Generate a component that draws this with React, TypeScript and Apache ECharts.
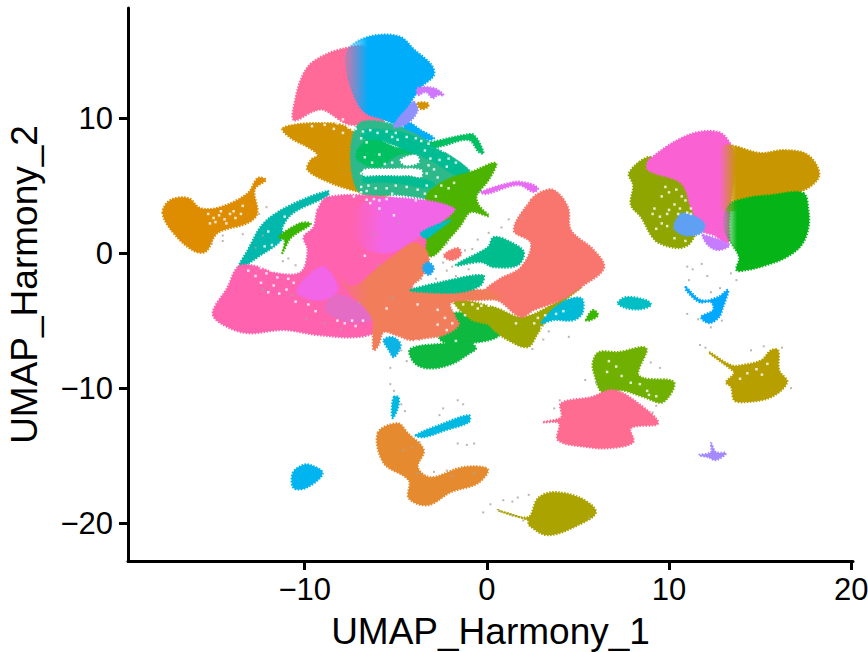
import React, { useEffect, useRef } from "react";
import * as echarts from "echarts";

type P = [number, number];

const xTicks = [-10, 0, 10, 20];
const yTicks = [-20, -10, 0, 10];

const goldLeft: P[] = [[-17.8,2.96],[-17.37,3.93],[-16.38,4.07],[-15.72,3.33],[-14.62,3.41],[-13.13,4.44],[-12.58,5.56],[-12.14,5.41],[-12.75,4.7],[-12.6,2.96],[-13.13,2.22],[-14.78,1.48],[-15.44,0.1],[-16.16,0.22],[-17.2,1.48]];
const tealArc: P[] = [[-13.63,-1.04],[-13.13,0.22],[-12.25,2.22],[-10.77,3.56],[-8.74,4.6],[-8.74,4.25],[-10.6,3.0],[-11.2,2.0],[-11.3,0.96],[-12.58,-0.3],[-13.24,-0.89]];
const greenTwig: P[] = [[-11.43,1.19],[-10.23,2.22],[-9.67,2.15],[-10.77,1.11],[-11.22,0],[-11.1,0.96]];
const pinkTop: P[] = [[-10.6,9.85],[-10.5,11.48],[-10.1,13.19],[-9.51,14.2],[-8.02,15.1],[-6.54,15.1],[-5.55,10],[-7.47,9.5],[-8.96,10.6],[-9.51,10.5]];
const blueTop: P[] = [[-7.75,14.08],[-7.64,15.04],[-7.09,15.7],[-5.99,16.15],[-4.73,16.0],[-4.01,15.1],[-3.08,14.0],[-2.9,13.19],[-3.6,12.3],[-4.2,11.11],[-4.73,9.6],[-5.66,9.9],[-6.76,10.5],[-7.47,12.3]];
const blueTail: P[] = [[-4.34,9.7],[-3.63,9.11],[-2.91,8.52],[-3.19,8.37],[-3.9,8.89],[-4.56,9.33]];
const periTop: P[] = [[-4.01,11.18],[-3.79,10.6],[-4.34,9.63],[-5.11,9.33],[-4.84,10],[-4.45,10.6]];
const lavTop: P[] = [[-3.79,12.22],[-2.91,12.22],[-2.36,11.7],[-2.69,11.7],[-2.97,11.48],[-3.35,11.93],[-3.79,11.7]];
const goldSmall: P[] = [[-3.79,11.11],[-3.24,11.11],[-3.24,10.82],[-3.63,10.67]];
const goldTop: P[] = [[-11.21,9.26],[-9.29,9.63],[-7.64,9.3],[-6.9,7.63],[-7.2,5.6],[-5.99,5.0],[-4.89,4.67],[-5.82,4.2],[-7.47,4.7],[-8.57,5.19],[-9.84,6.15],[-9.67,6.89],[-9.29,7.26],[-9.84,7.85],[-10.77,8.52]];
const tealField: P[] = [[-7.09,9.48],[-4.45,9.26],[-2.53,7.63],[-0.88,6],[-0.33,4.67],[-1.98,3.93],[-4.73,4.3],[-7.09,4.67]];
const greenTop: P[] = [[-7.09,7.63],[-6.37,8.52],[-5.55,8.15],[-4.89,7.78],[-4.18,7.85],[-2.53,8.37],[-1.26,8.74],[-0.71,8.74],[-0.17,7.41],[-0.44,7.48],[-0.99,8.37],[-2.25,8],[-3.9,7.41],[-4.89,7.26],[-5.99,6.37],[-7.09,6.89]];
const tealBandA: P[] = [[-6.76,9.11],[-4.56,8.89],[-2.91,7.85],[-1.04,6.15],[-1.43,5.63],[-3.08,6.89],[-4.45,7.63],[-5.82,8.37],[-6.76,8.52]];
const tealBandB: P[] = [[-6.76,5.63],[-4.34,5.63],[-2.91,5.19],[-3.08,4.82],[-4.89,5.19],[-5.99,5.26],[-6.76,5.26]];
const holeA: P[] = [[-5.66,8.37],[-4.18,8.22],[-4.45,7.78],[-5.27,7.78]];
const holeB: P[] = [[-6.76,6.15],[-5.27,6.22],[-3.63,6.15],[-3.63,5.63],[-4.34,5.78],[-5.66,5.56],[-6.65,5.63]];
const holeC: P[] = [[-4.73,6.89],[-3.9,7.26],[-3.74,6.74],[-4.45,6.52]];
const holeD: P[] = [[-2.91,7.93],[-2.36,7.63],[-2.53,7.26],[-2.91,7.48]];
const holeE: P[] = [[-1.59,6],[-0.33,5.41],[-0.44,4.89],[-1.43,5.26]];
const limeMain: P[] = [[-3.08,4.67],[-1.98,5.56],[-0.88,6.0],[0.49,6.67],[0.1,5.41],[-0.55,4.3],[-0.44,3.55],[0.1,2.74],[-0.88,3.04],[-1.43,2.07],[-1.98,1.19],[-2.97,-0.22],[-3.52,0.22],[-3.6,2.0],[-3.4,3.5],[-3.35,4.07]];
const pinkMain: P[] = [[-9.29,3.19],[-8.74,4.15],[-5.66,4.15],[-4.01,3.41],[-3.35,0.96],[-4.18,-2.74],[-4.73,-4.45],[-5.82,-5.7],[-7.09,-6.22],[-9.29,-6.07],[-11.15,-5.7],[-13.13,-5.93],[-14.45,-5.33],[-15.05,-4.45],[-14.23,-2.52],[-13.68,-1.04],[-12.9,-0.9],[-11.5,-1.5],[-10.2,-1.4],[-9.84,0.22],[-10.05,1.19],[-9.51,1.93]];
const magentaUpper: P[] = [[-6.76,3.7],[-4.56,4.07],[-1.81,3.33],[-2.36,2.44],[-3.79,1.19],[-5.27,0.07],[-6.76,0.44],[-7.31,1.93]];
const magentaLower: P[] = [[-10.05,-2],[-8.96,-1.04],[-8.19,-2.74],[-9.12,-3.48],[-10.38,-2.96]];
const mauveBlend: P[] = [[-8.3,-3.11],[-6.92,-3.85],[-6.26,-4.82],[-7.47,-5.11],[-8.85,-4.22]];
const cyanInner: P[] = [[-3.63,1.48],[-2.36,2.3],[-1.98,2.44],[-2.69,1.7],[-3.35,1.11]];
const salmonRight: P[] = [[2.42,3.93],[2.97,4.52],[3.68,4.67],[4.45,3.41],[4.62,1.7],[5.88,0.22],[6.43,-1.11],[5.17,-2.52],[4.07,-3.48],[2.58,-4.22],[1.87,-4.74],[0.77,-3.63],[-0.16,-2.96],[0.6,-2],[1.87,-1.04],[2.42,0.74],[1.48,1.7]];
const coralMain: P[] = [[-8.19,-1.48],[-7.64,-2.37],[-7.09,-2.37],[-6.26,-1.41],[-5.27,-0.37],[-4.01,0.74],[-3.35,0.22],[-3.19,-0.67],[-3.63,-1.85],[-4.18,-2.52],[-3.08,-2.74],[-1.98,-2.89],[-0.16,-2.74],[0.77,-3.33],[-0.33,-3.48],[-1.98,-3.7],[-1.7,-4.82],[-1.54,-5.33],[-2.36,-6.07],[-3.35,-6.3],[-4.18,-6.44],[-5,-6.07],[-5.66,-5.85],[-5.94,-6.81],[-6.21,-7.19],[-6.26,-6.07],[-6.26,-4.96],[-6.81,-3.85],[-7.58,-2.89]];
const oliveMid: P[] = [[-1.81,-3.48],[0.38,-4.0],[1.87,-4.74],[3.35,-4],[5.17,-2.52],[3.68,-4.22],[2.8,-5.93],[2.25,-6.96],[1.15,-6.44],[0.38,-5.7],[0.1,-5.3],[-0.88,-4.9]];
const greenLower: P[] = [[-4.2,-7.1],[-2.36,-6.7],[-1.04,-6.55],[-0.6,-7.04],[-1.04,-7.5],[-1.98,-8.25],[-3.24,-8.54],[-4,-8.1]];
const greenUpper: P[] = [[-2.5,-4.7],[-0.33,-4.6],[0.7,-6.0],[-0.49,-6.6],[-2.5,-6.5]];
const tealTriangle: P[] = [[-1.7,-0.89],[0.05,0.44],[0.38,1.19],[1.32,0.81],[2.03,0.07],[1.7,-0.89],[0.38,-1.04],[-0.33,-0.67]];
const tealSliver: P[] = [[-4.18,-2.74],[-2.53,-2.15],[-0.22,-1.63],[-0.33,-2.37],[-1.43,-2.89],[-3.46,-2.89]];
const salmonSmall: P[] = [[-2.36,-0.15],[-1.59,0.37],[-1.43,-0.15],[-1.98,-0.52]];
const cyanMid: P[] = [[2.97,-5.19],[4.07,-3.7],[5.17,-3.33],[5.27,-4.37],[4.78,-4.96],[3.68,-4.96]];
const tealOval: P[] = [[7.2,-3.7],[7.64,-3.26],[8.74,-3.48],[9.01,-3.85],[8.46,-4.15],[7.64,-4.07]];
const greenChip: P[] = [[5.44,-4.96],[5.82,-4.22],[6.1,-4.59],[5.71,-4.96]];
const magentaLink: P[] = [[-0.33,4.52],[1.48,5.26],[2.25,5.19],[2.8,4.82],[2.58,4.52],[1.7,5.04],[-0.05,4.37]];
const blueStar: P[] = [[-3.24,-0.67],[-2.91,-1.11],[-3.19,-1.63],[-3.52,-1.11]];
const blueUnder: P[] = [[-5.66,-6.44],[-5.17,-6.22],[-4.73,-6.81],[-5.11,-7.7],[-5.38,-7.19]];
const oliveRight: P[] = [[8.85,7.11],[7.8,5.93],[8.03,5.04],[7.91,3.56],[8.46,2.67],[9.01,1.33],[9.45,0.74],[10.55,0.37],[11.21,0.82],[11.6,2.44],[11.21,4.89],[9.56,6.67]];
const goldRight: P[] = [[13.0,7.9],[15.05,7.41],[16.32,7.63],[17.63,7.26],[18.25,5.78],[17.42,4.67],[15.05,3.8],[13.0,3.19],[12.9,5.41]];
const greenRight: P[] = [[17.37,4.44],[17.65,3.19],[17.65,1.85],[17.27,0.59],[16.45,-0.3],[15.35,-0.89],[14.25,-1.26],[13.7,-1.26],[13.85,-0.3],[13.3,0.96],[12.98,2.07],[13.3,3.56],[14.25,4.07],[15.6,4.3]];
const magentaRight: P[] = [[8.9,6.89],[11.05,8.74],[12.7,8.97],[13.41,8],[13.68,6.67],[13.41,3.93],[13.3,2.22],[13.25,0.74],[12.47,1.33],[11.76,1.7],[11.21,3.41],[10.66,5.19],[8.85,6.15]];
const blueRight: P[] = [[10.27,1.93],[10.77,2.96],[11.92,2.22],[11.76,1.48],[10.82,1.33]];
const purpleRight: P[] = [[11.87,1.33],[13.3,0.59],[12.7,0.22],[12.14,0.59]];
const blueLower: P[] = [[10.93,-2.52],[11.76,-3.48],[12.68,-3.26],[13.24,-2.74],[12.97,-4],[12.75,-4.74],[12.2,-5.19],[11.76,-4.74],[12.42,-4.22],[12.3,-3.63],[11.65,-3.63],[10.93,-2.74]];
const limeBottom: P[] = [[6.16,-7.33],[7.2,-7.33],[8.74,-7.04],[8.3,-8.89],[8.63,-9.26],[10.27,-9.56],[9.67,-11.04],[8.63,-10.67],[7.36,-10.15],[6.37,-10.37],[5.88,-8.89],[5.82,-8.07]];
const pinkBottom: P[] = [[3.13,-12.52],[4.07,-12.15],[4.07,-11.11],[5.71,-10.67],[6.97,-10.15],[8.3,-11.11],[9.4,-12.6],[7.91,-12.96],[8.03,-14],[6.81,-14.44],[5.55,-14.37],[3.9,-13.85],[3.96,-12.6]];
const goldLowerRight: P[] = [[12.2,-7.33],[13.41,-8.3],[13.96,-8.3],[15.06,-7.93],[15.6,-7.19],[15.99,-7.19],[16.05,-8.67],[16.49,-9.56],[15.6,-10.67],[14.12,-11.04],[13.57,-10.89],[13.41,-9.93],[13.13,-9.56],[13.57,-8.89],[13.24,-8.44],[12.3,-7.5]];
const periSmall: P[] = [[12.3,-14.07],[12.58,-14.74],[13.13,-14.81],[12.58,-15.33],[12.14,-15.11],[11.65,-14.96],[12.3,-14.74]];
const oliveBottom: P[] = [[0.6,-19.04],[2.25,-19.56],[2.8,-18.15],[3.68,-17.7],[5.17,-18.15],[5.99,-19.19],[5,-20.15],[3.35,-20.89],[2.31,-20.15],[2.25,-19.78]];
const orangeBottom: P[] = [[-5.99,-13.33],[-4.89,-12.6],[-4.34,-13.33],[-3.46,-14.59],[-3.79,-15.85],[-3.08,-16.6],[-1.32,-15.85],[0.05,-16],[-0.49,-17.04],[-1.98,-17.7],[-3.24,-18.67],[-4.29,-18.15],[-4.29,-16.82],[-5.66,-15.56]];
const cyanBottom: P[] = [[-3.9,-13.48],[-2.36,-12.6],[-0.99,-12],[-0.99,-12.52],[-2.25,-13.11],[-3.46,-13.63]];
const cyanStreak: P[] = [[-5.11,-10.67],[-4.84,-10.67],[-4.89,-11.48],[-5.17,-12.22],[-5.22,-11.63]];
const blueLeft: P[] = [[-10.66,-16.3],[-10.11,-15.7],[-9.67,-15.7],[-9.01,-16.3],[-9.84,-17.33],[-10.6,-17.41]];

const whiteSpecks: P[] = [
[-9.2,10.1],[-8.8,10.3],[-8.5,9.8],[-8.2,9.6],[-7.9,9.9],[-8.9,9.5],[-9.6,9.4],[-7.6,9.3],[-7.2,9.2],[-6.8,9],[-6.4,9.1],[-6,8.9],[-5.5,9],[-5,8.9],[-8.4,9.2],[-7.9,8.9],[-6.9,8.5],[-6.6,8.2],
[-6.6,3.95],[-6.2,4],[-5.9,3.9],[-6.4,3.7],[-5.5,4],[-7.3,4.2],[-6.9,4.5],[-5.2,4.4],[-3.9,3.9],[-3.4,4.4],[-2.8,4.2],[-2.1,4.8],[-2.7,5.6],[-2.2,6.4],[-1.7,6.7],[-3.3,5.9],[-5.6,6.6],[-6.3,6.7],[-6.7,7.1],[-5.2,8.6],[-3.6,8.3],[-3.2,8.1],[-3.4,7.6],[-1.7,7.2],[-0.9,6.9],
[-6.5,5],[-6.1,4.8],[-5.5,4.8],[-5,5],[-4.4,4.9],[-3.8,4.7],[-3.3,5],[-2.5,5],[-1.8,5.2],[-2.9,6.2],[-2.6,6.9],[-2.1,7],[-3.2,6.5],[-3.1,7],[-4.9,6.2],[-4.2,6.2],[-5.2,6.7],[-5.9,7.3],[-4.4,8.6],[-4.9,8.4],[-3.9,8.5],[-6.9,5.9],[-6.9,4.9],[-6.6,4.6],
[-15.3,2.9],[-15,2.6],[-14.7,2.8],[-14.4,2.5],[-14.1,2.9],[-13.8,2.6],[-13.5,2.9],[-14.9,2.3],[-14.3,2.2],[-13.9,3.1],[-15.2,2.2],[-13.4,3.5],[-14.6,3.1],
[-12.4,-1.1],[-12.1,-1.5],[-11.8,-1.3],[-11.5,-1.8],[-11.2,-1.4],[-10.9,-1.9],[-12.7,-1.7],[-13.1,-1.3],[-12.4,-2.2],[-11.7,-2.4],[-11,-2.7],[-10.6,-2.2],[-11.4,-3],[-12,-2.9],[-10.5,-3.6],[-9.8,-3.8],[-9.4,-4.3],
[-11.6,3.1],[-11.1,2.7],[-12,1.6],[-11.8,0.6],[-12.2,0.5],[-11.9,-0.1],[-10.9,2.4],
[-8.2,-5],[-7.8,-5.2],[-7.2,-5.4],[-6.8,-5],[-7.4,-5],[-5.5,-4.1],[-3.8,-3.8],[-2.7,-4.2],[-2.3,-4.8],[-1.9,-5.2],[-1.2,-4.6],[-2.7,-5.3],[-2.2,-5.7],[-0.8,-3.8],[-0.3,-3.9],[0.1,-3.9],[-0.5,-4.1],
[-1.8,-4],[-1.3,-3.8],[-4.6,-6.5],[-3.9,-6.5],[-3,-6.5],[-1.7,-6.5],[-5.9,3.3],[-5.1,2.8],[-6.7,-0.2],
[2.8,-4.8],[3.2,-4.6],[2.6,-5.2],[1.6,-5.2],[3,-5.5],[4.2,-4.3],[3.8,-4.5],
[9.8,4.9],[10,4.5],[10.4,4.7],[9.6,4.2],[10.7,4.2],[10.9,3.9],[10.3,3.6],[9.9,2.9],[9.5,2.7],[9.1,2.9],[9.6,2.2],[9.9,2],[10,3.2],[10.6,3.3],[9.3,1.8],[9.2,3.3],[10.5,2.9],[11,3],[11.2,2.9],[10.3,1.1],[10.9,0.9],[11.2,3.3],
[12.7,-0.3],[13,-0.5],[13.3,-0.8],[13.1,0],[12.4,-0.1],[13.4,-0.2],
[7.1,-8.4],[6.7,-8],[7.9,-9.6],[8.4,-9.7],[7.4,-9.1],[8.8,-10.2],[9.3,-10.6],[8.9,-10.5],[6.6,-8.8],
[15.4,-8.2],[14.8,-8.6],[14.3,-8.9],[15.1,-9],[13.9,-9.3]
];
const greySpecks: P[] = [
[-12.3,1.3],[-12.7,0.4],[-14.5,1.3],[-13.4,1.4],[-15.1,0.7],[-14.5,0.9],[-12.5,2.9],[-12.1,3.4],
[-10.5,-0.9],[-11.2,-0.6],[-10.9,-0.4],[-12.3,-2.7],[-10.7,-3.1],[-9.9,-4.9],[-8.9,-5.2],[-8,-5.6],[-4.7,-7.2],[-4.4,-8],[-5.3,-8.5],
[-2.4,-0.7],[-1.9,-1],[-1.2,0.2],[-0.8,0.3],[-0.5,1],[0.1,1.5],[-2.2,0.7],[-2.8,-1.9],[-2.2,-1.3],[-1.7,-1.7],[-1,-1.2],[-3.6,-1.9],[0.8,1.9],[1.2,2.5],[1.9,2.6],[-4.8,2.2],[-6.2,1.4],
[-6,-0.9],[-7,-3.7],[-5.2,-3.3],[4.5,-6.2],[3.4,-5.8],[3.1,-6.4],[2.5,-7.1],
[11.8,-0.8],[11,-1],[11.3,-1.2],[12.1,-1.7],[13.4,-1.5],[13.7,-2],[11.1,-2],[12.8,-2.6],[12.3,-2.9],[11,-4.5],[11.6,-4.9],[12.9,-5],[12.3,-5.5],
[-5.1,-10.2],[-5.3,-9.7],[-4.7,-11.2],[-4.5,-11.7],[-2.6,-12],[-2.4,-11.5],[-1.6,-10.9],[-1.3,-11.2],[-1.6,-14.1],[-1.1,-14.2],[-0.7,-14.1],[-4.6,-14.6],[-4.1,-14.4],[-3.7,-14],[-3.8,-16.3],[-2.9,-16.2],[-2.2,-16.1],[-1.9,-16.5],[-0.7,-16.3],
[0.2,-18.6],[0.9,-18.3],[1.4,-18.4],[1.7,-18.1],[2.3,-17.9],[-0.2,-19.2],[0.7,-19.1],[1.4,-19.4],[2,-19.8],[5.6,-19.6],
[9.5,-8.5],[9,-8.1],[6,-9.6],[5.4,-9.4],[4,-10.9],[3.7,-11.5],[9.1,-11.8],[9.3,-11.3],[12,-7],[11.7,-6.8],[16.2,-7],[14.5,-7.2],[15.2,-6.9],[16.7,-10]
];

const fade = (r: number, g: number, b: number, a: number, stop: number) =>
  new echarts.graphic.LinearGradient(0, 0, 1, 0, [
    { offset: 0, color: `rgba(${r},${g},${b},${a})` },
    { offset: stop, color: `rgb(${r},${g},${b})` },
    { offset: 1, color: `rgb(${r},${g},${b})` },
  ]);

const layers: { pts: P[]; color: any }[] = [
  { pts: goldLeft, color: "#DE8C00" },
  { pts: tealArc, color: "#00B9AC" },
  { pts: greenTwig, color: "#39B600" },
  { pts: pinkTop, color: "#FF6A98" },
  { pts: blueLeft, color: "#00B4F0" },
  { pts: goldTop, color: "#D39200" },
  { pts: tealField, color: "#2DB98A" },
  { pts: holeA, color: "#FFFFFF" },
  { pts: holeB, color: "#FFFFFF" },
  { pts: holeC, color: "#FFFFFF" },
  { pts: holeD, color: "#FFFFFF" },
  { pts: holeE, color: "#FFFFFF" },
  { pts: greenTop, color: "#00C062" },
  { pts: tealBandA, color: "#00BC92" },
  { pts: tealBandB, color: "#00BC92" },
  { pts: limeMain, color: "#4CB400" },
  { pts: pinkMain, color: "#FF62AE" },
  { pts: magentaUpper, color: fade(242, 101, 231, 0.1, 0.3) },
  { pts: magentaLower, color: "#F265E7" },
  { pts: mauveBlend, color: "rgba(225,110,200,0.85)" },
  { pts: cyanInner, color: "#00BCC4" },
  { pts: blueTail, color: "#00ADFA" },
  { pts: blueTop, color: fade(0, 173, 250, 0.2, 0.25) },
  { pts: periTop, color: "#8F91FF" },
  { pts: lavTop, color: "#CF78FF" },
  { pts: goldSmall, color: "#D39200" },
  { pts: greenUpper, color: "#0DB93F" },
  { pts: greenLower, color: "#0DB93F" },
  { pts: oliveMid, color: "#9CA700" },
  { pts: cyanMid, color: "#00BAD6" },
  { pts: salmonRight, color: "#F8766D" },
  { pts: coralMain, color: fade(241, 125, 91, 0.1, 0.18) },
  { pts: tealTriangle, color: "#00BD8E" },
  { pts: tealSliver, color: "#00BD8E" },
  { pts: salmonSmall, color: "#F8766D" },
  { pts: tealOval, color: "#00BFC4" },
  { pts: greenChip, color: "#39B600" },
  { pts: magentaLink, color: "#E76BF3" },
  { pts: blueStar, color: "#1EA8F0" },
  { pts: blueUnder, color: "#0CB4E6" },
  { pts: oliveRight, color: "#8FA600" },
  { pts: magentaRight, color: "#FA62D4" },
  { pts: goldRight, color: fade(200, 151, 0, 0.05, 0.16) },
  { pts: greenRight, color: fade(5, 181, 24, 0.1, 0.16) },
  { pts: blueRight, color: "#5FA0F5" },
  { pts: purpleRight, color: "#C77CFF" },
  { pts: blueLower, color: "#00A9FF" },
  { pts: limeBottom, color: "#70B000" },
  { pts: pinkBottom, color: "#FF6C91" },
  { pts: goldLowerRight, color: "#B79F00" },
  { pts: periSmall, color: "#A58AFF" },
  { pts: oliveBottom, color: "#ABA300" },
  { pts: orangeBottom, color: "#E58A2E" },
  { pts: cyanBottom, color: "#00B9E3" },
  { pts: cyanStreak, color: "#00B9E3" },
];

const fmt = (v: number) => String(v).replace("-", "\u2212");

export default function App() {
  const ref = useRef<HTMLDivElement>(null);
  useEffect(() => {
    const chart = echarts.init(ref.current!, null, { renderer: "svg" });
    const polySeries = layers.map((l) => ({
      type: "custom",
      clip: false,
      silent: true,
      encode: { x: 0, y: 1 },
      data: l.pts,
      renderItem: (p: any, api: any) =>
        p.dataIndex === 0
          ? {
              type: "polygon",
              shape: { points: l.pts.map((q) => api.coord(q)), smooth: 0.35 },
              style: { fill: l.color, stroke: l.color, lineWidth: 2.2, lineDash: [1.5, 1.5] },
            }
          : null,
    }));
    const speck = (data: P[], color: string, size: number) => ({
      type: "scatter",
      silent: true,
      symbol: "rect",
      symbolSize: size,
      itemStyle: { color },
      data,
    });
    const axisCommon = {
      axisLine: { show: true, onZero: false, lineStyle: { color: "#000", width: 3 } },
      splitLine: { show: false },
      nameLocation: "middle" as const,
      nameTextStyle: { fontFamily: "Liberation Sans", fontSize: 37, color: "#000" },
    };
    const tick = { show: true, length: 9, lineStyle: { color: "#000", width: 3 } };
    chart.setOption({
      animation: false,
      backgroundColor: "#fff",
      grid: { left: 128, right: 15, top: 8, bottom: 91, outerBoundsMode: "none" },
      xAxis: {
        ...axisCommon,
        type: "value",
        min: -19.7,
        max: 20.1,
        name: "UMAP_Harmony_1",
        nameGap: 52,
        axisTick: { ...tick, customValues: xTicks },
        axisLabel: { customValues: xTicks, formatter: fmt, fontFamily: "Liberation Sans", fontSize: 31, color: "#000", margin: 13 },
      },
      yAxis: {
        ...axisCommon,
        type: "value",
        min: -22.8,
        max: 18.15,
        name: "UMAP_Harmony_2",
        nameGap: 85,
        axisTick: { ...tick, customValues: yTicks },
        axisLabel: { customValues: yTicks, formatter: fmt, fontFamily: "Liberation Sans", fontSize: 31, color: "#000", margin: 15 },
      },
      series: [...polySeries, speck(whiteSpecks, "#FFFFFF", 2.5), speck(greySpecks, "#A9A49C", 2)],
    });
    return () => chart.dispose();
  }, []);
  return <div ref={ref} style={{ position: "fixed", left: 0, top: 0, width: 868, height: 652 }} />;
}
